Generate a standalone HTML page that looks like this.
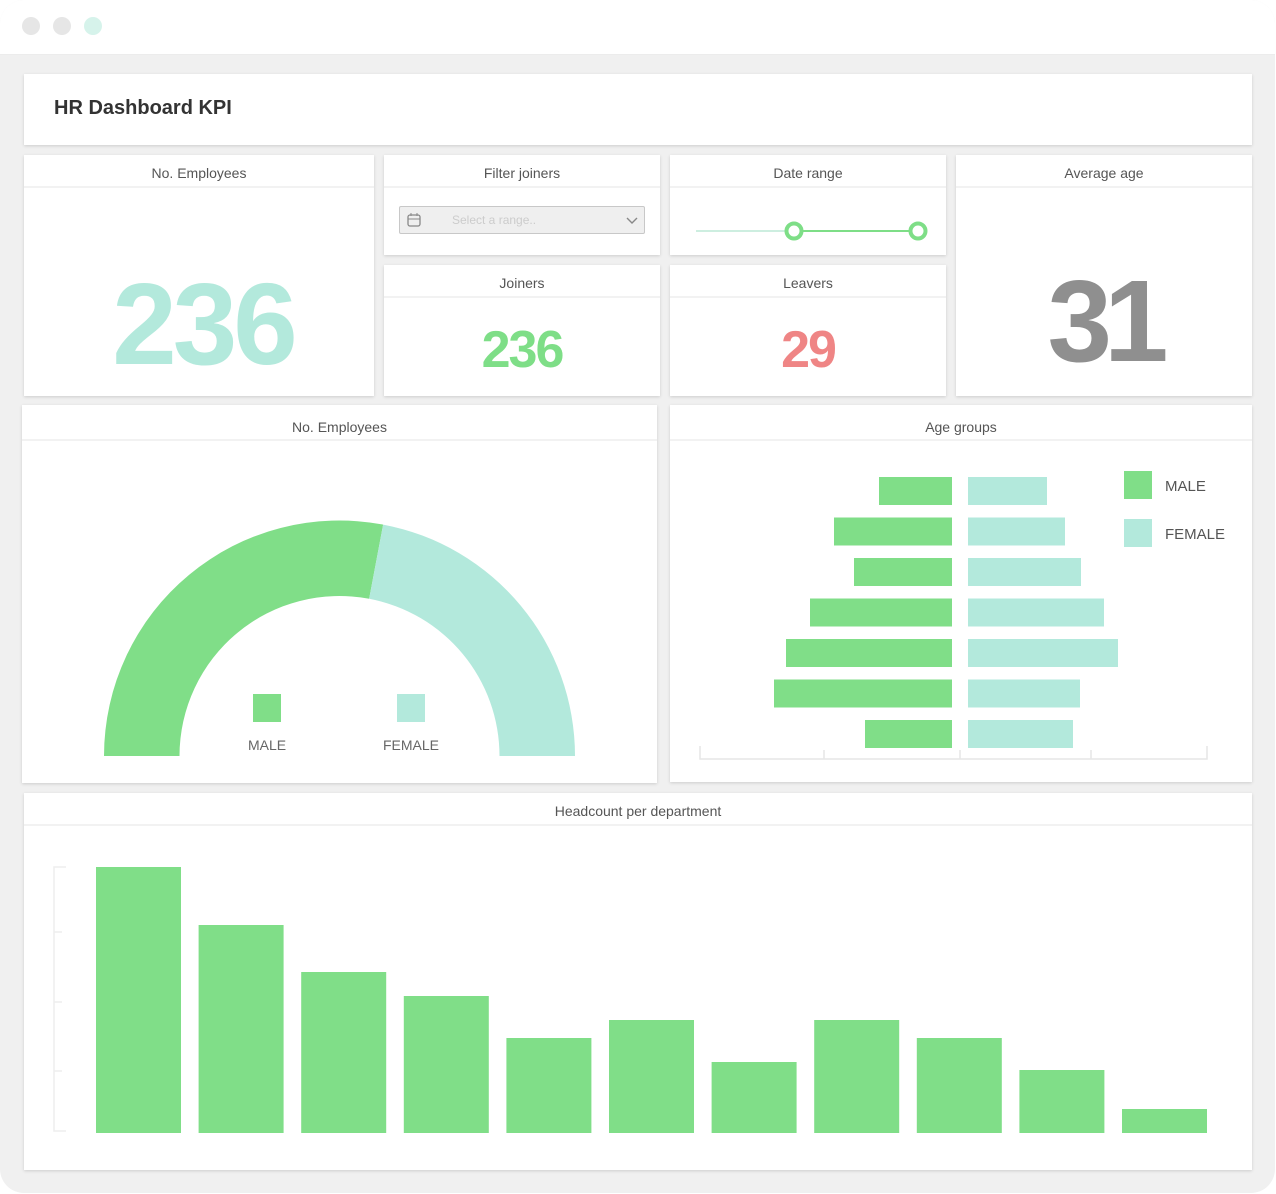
<!DOCTYPE html>
<html><head><meta charset="utf-8">
<style>
*{box-sizing:border-box;margin:0;padding:0}
body{width:1276px;height:1194px;background:#fff;font-family:"Liberation Sans",sans-serif;position:relative;overflow:hidden}
#frame{position:absolute;left:0;top:0;width:1275px;height:1193px;background:#f0f0f0;border-radius:24px;overflow:hidden}
#topbar{position:absolute;left:0;top:0;width:100%;height:55px;background:#fff;border-bottom:1px solid #ececec}
.dot{position:absolute;top:17px;width:18px;height:18px;border-radius:50%}
.card{position:absolute;background:#fff;box-shadow:0 1px 3px rgba(0,0,0,0.15)}
.ttl{position:absolute;left:0;top:0;width:100%;height:33px;border-bottom:2px solid #f2f2f2;text-align:center;font-size:14px;line-height:36px;color:#555}
.ttl.mid{height:36px;line-height:44px}
.big{position:absolute;left:0;width:100%;text-align:center;font-weight:bold;letter-spacing:-3px}
svg text{font-family:"Liberation Sans",sans-serif}
</style></head><body>
<div id="frame">
<div id="topbar">
<div class="dot" style="left:22px;background:#e6e6e6"></div>
<div class="dot" style="left:53px;background:#e6e6e6"></div>
<div class="dot" style="left:84px;background:#d6f3eb"></div>
</div>

<div class="card" style="left:24px;top:74px;width:1228px;height:71px">
<div style="position:absolute;left:30px;top:23px;font-size:20px;font-weight:bold;color:#333">HR Dashboard KPI</div>
</div>

<div class="card" style="left:24px;top:155px;width:350px;height:241px">
<div class="ttl">No. Employees</div>
<div class="big" style="top:109px;font-size:116px;line-height:120px;color:#b3e9dc;letter-spacing:-4px;padding-left:8px">236</div>
</div>

<div class="card" style="left:384px;top:155px;width:276px;height:100px">
<div class="ttl">Filter joiners</div>
<div style="position:absolute;left:15px;top:51px;width:246px;height:28px;background:#efefef;border:1px solid #c8c8c8;border-radius:2px">
<svg width="16" height="16" style="position:absolute;left:6px;top:5px"><rect x="2" y="3" width="12" height="11" rx="2" fill="none" stroke="#888" stroke-width="1.3"/><line x1="2" y1="7" x2="14" y2="7" stroke="#888"/><line x1="5" y1="1" x2="5" y2="4" stroke="#888"/><line x1="11" y1="1" x2="11" y2="4" stroke="#888"/></svg>
<span style="position:absolute;left:52px;top:6px;font-size:12px;color:#ccc">Select a range..</span>
<svg width="12" height="8" style="position:absolute;right:6px;top:10px"><polyline points="1,1 6,6 11,1" fill="none" stroke="#888" stroke-width="1.4"/></svg>
</div>
</div>

<div class="card" style="left:670px;top:155px;width:276px;height:100px">
<div class="ttl">Date range</div>
<svg width="276" height="100" style="position:absolute;left:0;top:0">
<line x1="26" y1="76" x2="124" y2="76" stroke="#cdeee0" stroke-width="2"/>
<line x1="124" y1="76" x2="248" y2="76" stroke="#7ede87" stroke-width="2"/>
<circle cx="124" cy="76" r="7.5" fill="#fff" stroke="#7ede87" stroke-width="4"/>
<circle cx="248" cy="76" r="7.5" fill="#fff" stroke="#7ede87" stroke-width="4"/>
</svg>
</div>

<div class="card" style="left:956px;top:155px;width:296px;height:241px">
<div class="ttl">Average age</div>
<div class="big" style="top:106px;font-size:116px;line-height:120px;color:#8f8f8f;letter-spacing:-8px">31</div>
</div>

<div class="card" style="left:384px;top:265px;width:276px;height:131px">
<div class="ttl">Joiners</div>
<div class="big" style="top:53px;font-size:52px;line-height:64px;color:#7ede87;letter-spacing:-2px">236</div>
</div>

<div class="card" style="left:670px;top:265px;width:276px;height:131px">
<div class="ttl">Leavers</div>
<div class="big" style="top:53px;font-size:52px;line-height:64px;color:#ef8585;letter-spacing:-2px">29</div>
</div>

<div class="card" style="left:22px;top:405px;width:635px;height:378px">
<div class="ttl mid">No. Employees</div>
</div>
<div class="card" style="left:670px;top:405px;width:582px;height:377px">
<div class="ttl mid">Age groups</div>
</div>
<div class="card" style="left:24px;top:793px;width:1228px;height:377px">
<div class="ttl">Headcount per department</div>
</div>

<svg id="charts" width="1276" height="1194" style="position:absolute;left:0;top:0"></svg>
</div>

<script>
// gauge data
const genderLabels = ['MALE','FEMALE'];
const genderValues = [132, 104];
// age pyramid data
const ageGroups = ['18-24','25-29','30-34','35-39','40-44','45-49','50+'];
const maleAges = [73,118,98,142,166,178,87];
const femaleAges = [79,97,113,136,150,112,105];
// headcount data
const departments = ['D1','D2','D3','D4','D5','D6','D7','D8','D9','D10','D11'];
const headcount = [266,208,161,137,95,113,71,113,95,63,24];
const headTicks = [0,62,131,201,266];

const NS='http://www.w3.org/2000/svg';
const svg=document.getElementById('charts');
function mk(tag,attrs){const e=document.createElementNS(NS,tag);for(const k in attrs)e.setAttribute(k,attrs[k]);svg.appendChild(e);return e;}
const GREEN='#80de88', TEAL='#b3e9dc';

// gauge
const cx=339.5, cy=756, R=235.5, r=160;
const total=genderValues.reduce((a,b)=>a+b,0);
let start=Math.PI;
genderValues.forEach((v,i)=>{
  const end=start-Math.PI*v/total;
  const p=(a,rr)=>[cx+rr*Math.cos(a),cy-rr*Math.sin(a)];
  const [x1,y1]=p(start,R),[x2,y2]=p(end,R),[x3,y3]=p(end,r),[x4,y4]=p(start,r);
  const e=mk('path',{d:`M${x1},${y1} A${R},${R} 0 0 1 ${x2},${y2} L${x3},${y3} A${r},${r} 0 0 0 ${x4},${y4} Z`,fill:i?TEAL:GREEN});
  
  
  start=end;
});
genderLabels.forEach((l,i)=>{
  const x=267+i*144;
  const s=mk('rect',{x:x-14,y:694,width:28,height:28,fill:i?TEAL:GREEN});
  
  
  const t=mk('text',{x:x,y:750,'text-anchor':'middle','font-size':14,fill:'#666'});
  t.textContent=l;
  
  
});

// pyramid
const mRight=952, fLeft=968, pScale=1, rowTop=477, rowStep=40.5, barH=28;
const ax=mk('path',{d:'M700,746 V759 H1207 V746 M824,759 V750 M960,759 V750 M1091,759 V750',stroke:'#e6e6e6',fill:'none','stroke-width':1.5});


ageGroups.forEach((g,i)=>{
  const y=rowTop+i*rowStep;
  const m=mk('rect',{x:mRight-maleAges[i]*pScale,y:y,width:maleAges[i]*pScale,height:barH,fill:GREEN});
  
  
  const f=mk('rect',{x:fLeft,y:y,width:femaleAges[i]*pScale,height:barH,fill:TEAL});
  
  
});
genderLabels.forEach((l,i)=>{
  const y=471+i*48;
  const s=mk('rect',{x:1124,y:y,width:28,height:28,fill:i?TEAL:GREEN});
  
  
  const t=mk('text',{x:1165,y:y+20,'font-size':15,fill:'#555'});
  t.textContent=l;
  
  
});

// headcount
const base=1133, hScale=1, x0=96, step=102.6, bw=85;
let d='M66,'+(base-headTicks[headTicks.length-1]*hScale)+' H54 V'+(base-2)+' H66';
headTicks.slice(1,-1).forEach(t=>{d+=' M54,'+(base-t*hScale)+' H62';});
const ya=mk('path',{d:d,stroke:'#eeeeee',fill:'none','stroke-width':1.5});


departments.forEach((dep,i)=>{
  const h=headcount[i]*hScale;
  const b=mk('rect',{x:x0+i*step,y:base-h,width:bw,height:h,fill:GREEN});
  
  
});
</script>
</body></html>
